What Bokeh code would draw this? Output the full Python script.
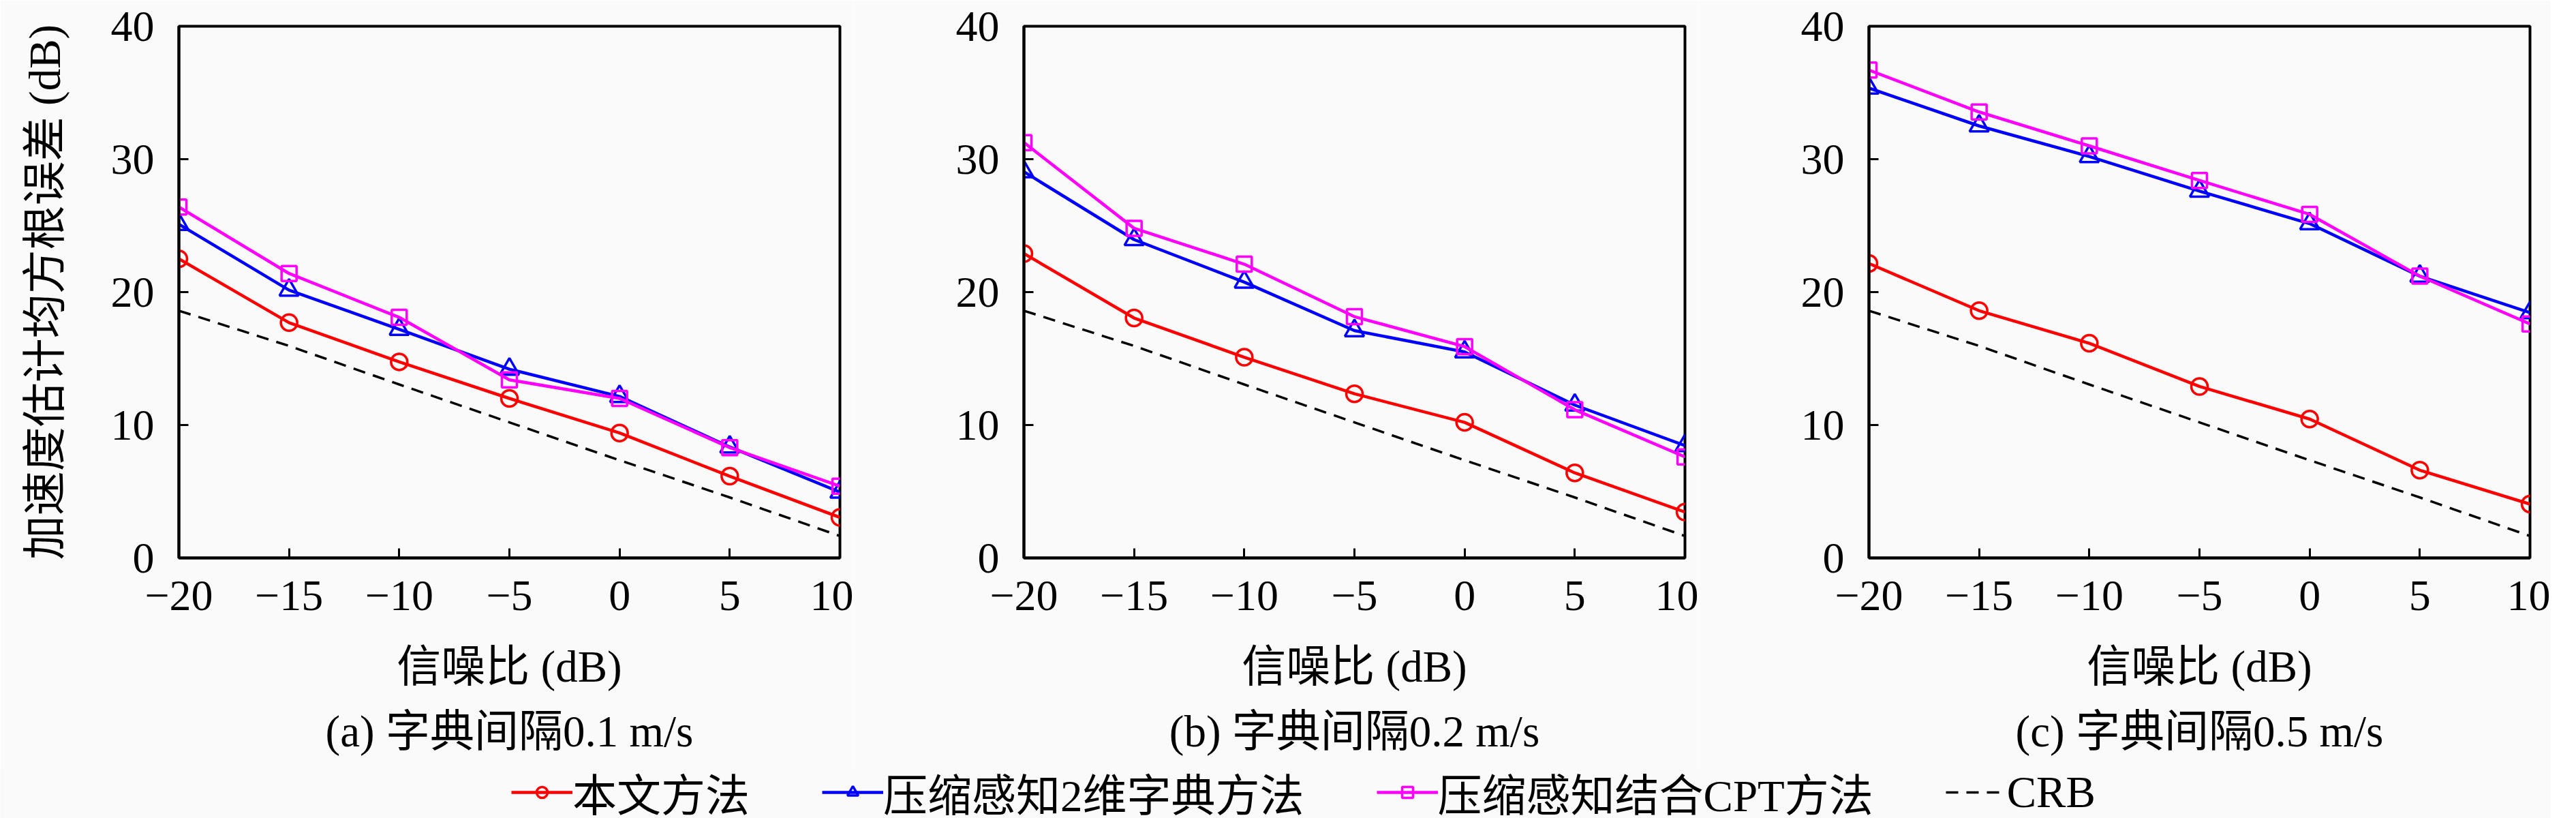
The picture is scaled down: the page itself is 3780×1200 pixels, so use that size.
from bokeh.plotting import figure
from bokeh.models import Range1d, FixedTicker, Title, Legend, LegendItem
from bokeh.layouts import row, column
from bokeh.embed import file_html
from bokeh.resources import INLINE

# ---------------- data ----------------
snr = [-20, -15, -10, -5, 0, 5, 10]
x_tick_labels = ["−20", "−15", "−10", "−5", "0", "5", "10"]
y_ticks = [0, 10, 20, 30, 40]
y_tick_labels = ["0", "10", "20", "30", "40"]

a_prop = [22.5, 17.7, 14.75, 12.0, 9.4, 6.15, 3.05]
a_cs2d = [25.1, 20.15, 17.2, 14.2, 12.15, 8.35, 4.95]
a_cpt = [26.4, 21.4, 18.1, 13.4, 12.0, 8.3, 5.4]

b_prop = [22.9, 18.05, 15.1, 12.35, 10.2, 6.4, 3.45]
b_cs2d = [29.05, 23.95, 20.75, 17.1, 15.5, 11.5, 8.45]
b_cpt = [31.25, 24.8, 22.1, 18.15, 15.9, 11.15, 7.6]

c_prop = [22.15, 18.6, 16.15, 12.9, 10.45, 6.6, 4.05]
c_cs2d = [35.35, 32.5, 30.2, 27.6, 25.15, 21.2, 18.45]
c_cpt = [36.7, 33.55, 31.0, 28.4, 25.85, 21.2, 17.6]

crb = [18.6, 15.95, 13.05, 10.2, 7.35, 4.55, 1.65]

series_names = ["本文方法", "压缩感知2维字典方法", "压缩感知结合CPT方法", "CRB"]
subtitles = ["(a) 字典间隔0.1 m/s", "(b) 字典间隔0.2 m/s", "(c) 字典间隔0.5 m/s"]
x_label = "信噪比 (dB)"
y_label = "加速度估计均方根误差 (dB)"

# ---------------- style ----------------
FONT = "'Liberation Serif', 'Noto Sans CJK SC', serif"
NUM_FONT = "'Liberation Serif', serif"
FS = "65px"
TICK_FS = "64px"
BG = "#fafafa"
RED, BLUE, MAG = "#ff0000", "#0000ff", "#ff00ff"
LW = 4.5
MLW = 3.5
MS = 26
NAN = float("nan")


def make_panel(prop, cs2d, cpt, subtitle, left_border, right_border, with_ylabel):
    p = figure(frame_width=970, frame_height=780,
               x_range=Range1d(-20, 10), y_range=Range1d(0, 40),
               output_backend="svg", toolbar_location=None,
               min_border_left=left_border, min_border_right=right_border,
               min_border_top=38, min_border_bottom=280,
               background_fill_color=BG, border_fill_color=BG)
    p.grid.visible = False
    p.outline_line_color = "black"
    p.outline_line_width = 4
    p.outline_line_alpha = 1.0

    for ax in (p.xaxis[0], p.yaxis[0]):
        ax.axis_line_width = 4
        ax.major_tick_in = 14
        ax.major_tick_out = 0
        ax.major_tick_line_width = 3
        ax.minor_tick_line_color = None
        ax.major_label_text_font = NUM_FONT
        ax.major_label_text_font_size = TICK_FS
        ax.major_label_text_color = "black"
        ax.axis_label_text_font = FONT
        ax.axis_label_text_font_size = FS
        ax.axis_label_text_font_style = "normal"
        ax.axis_label_text_color = "black"

    p.xaxis.ticker = FixedTicker(ticks=snr)
    p.xaxis.major_label_overrides = {t: s for t, s in zip(snr, x_tick_labels)}
    p.xaxis.major_label_standoff = 34
    p.xaxis.axis_label = x_label
    p.xaxis.axis_label_standoff = 44

    p.yaxis.ticker = FixedTicker(ticks=y_ticks)
    p.yaxis.major_label_overrides = {t: s for t, s in zip(y_ticks, y_tick_labels)}
    p.yaxis.major_label_standoff = 36
    if with_ylabel:
        p.yaxis.axis_label = y_label
        p.yaxis.axis_label_standoff = 58

    p.line(snr, crb, line_color="black", line_width=3.5, line_dash="18 12")
    p.line(snr, prop, line_color=RED, line_width=LW)
    p.scatter(snr, prop, marker="circle", size=MS - 2, line_color=RED, line_width=MLW, fill_alpha=0)
    p.line(snr, cs2d, line_color=BLUE, line_width=LW)
    p.scatter(snr, cs2d, marker="triangle", size=MS + 2, line_color=BLUE, line_width=MLW, fill_alpha=0)
    p.line(snr, cpt, line_color=MAG, line_width=LW)
    p.scatter(snr, cpt, marker="square", size=MS - 4, line_color=MAG, line_width=MLW, fill_alpha=0)

    t = Title(text=subtitle, align="center", text_font=FONT, text_font_size=FS,
              text_font_style="normal", text_color="black", standoff=37)
    p.add_layout(t, "below")
    return p


p1 = make_panel(a_prop, a_cs2d, a_cpt, subtitles[0], 262, 20, True)
p2 = make_panel(b_prop, b_cs2d, b_cpt, subtitles[1], 250, 20, False)
p3 = make_panel(c_prop, c_cs2d, c_cpt, subtitles[2], 250, 30, False)

# ---------------- legend strip ----------------
lf = figure(width=3742, height=86, x_range=Range1d(0, 1), y_range=Range1d(0, 1),
            x_axis_type=None, y_axis_type=None, output_backend="svg",
            toolbar_location=None, min_border=0,
            background_fill_color=BG, border_fill_color=BG)
lf.grid.visible = False
lf.outline_line_color = None

# legend-only renderers (no visible data)
r1 = lf.line(x=[NAN], y=[NAN], line_color=RED, line_width=LW)
s1 = lf.scatter(x=[NAN], y=[NAN], marker="circle", size=MS - 2, line_color=RED, line_width=MLW, fill_alpha=0)
r2 = lf.line(x=[NAN], y=[NAN], line_color=BLUE, line_width=LW)
s2 = lf.scatter(x=[NAN], y=[NAN], marker="triangle", size=MS + 2, line_color=BLUE, line_width=MLW, fill_alpha=0)
r3 = lf.line(x=[NAN], y=[NAN], line_color=MAG, line_width=LW)
s3 = lf.scatter(x=[NAN], y=[NAN], marker="square", size=MS - 4, line_color=MAG, line_width=MLW, fill_alpha=0)
r4 = lf.line(x=[NAN], y=[NAN], line_color="black", line_width=3.5, line_dash="18 12")

legend = Legend(items=[LegendItem(label=series_names[0], renderers=[r1, s1]),
                       LegendItem(label=series_names[1], renderers=[r2, s2]),
                       LegendItem(label=series_names[2], renderers=[r3, s3]),
                       LegendItem(label=series_names[3], renderers=[r4])],
                orientation="horizontal", location=(750, 4),
                glyph_width=90, glyph_height=40, label_standoff=0, spacing=106,
                padding=0, margin=0, border_line_color=None,
                background_fill_alpha=0,
                label_text_font=FONT, label_text_font_size=FS, label_text_color="black")
lf.add_layout(legend, "center")

layout = column(row(p1, p2, p3), lf)
open("out.html", "w").write(file_html(layout, INLINE))
